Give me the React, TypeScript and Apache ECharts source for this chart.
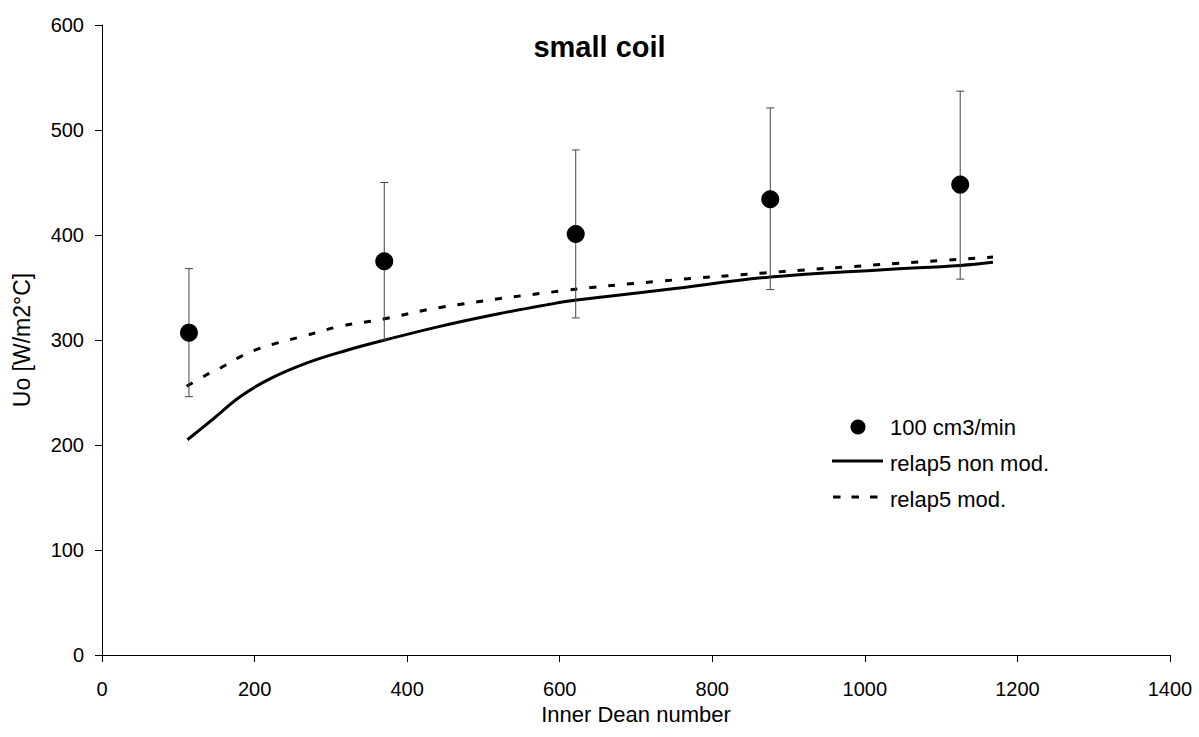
import React, { useEffect, useRef } from "react";
import * as echarts from "echarts";

const chartTitle = "small coil";
const xAxisName = "Inner Dean number";
const yAxisName = "Uo [W/m2°C]";

const deanX = [114, 370, 621, 876, 1125];
const uoMeasured = [307, 375, 401, 434, 448];
const errLow = [246, 300, 321, 348, 358];
const errHigh = [368, 450, 481, 521, 537];

const nonModX = [112, 146, 181, 220, 268, 320, 371, 443, 520, 587, 622, 740, 876, 1024, 1125, 1168];
const nonModY = [205, 225, 246, 263, 278, 290, 300, 313, 325, 334, 338, 348, 360, 367, 371, 374];

const modX = [111, 135, 157, 181, 203, 229, 266, 312, 369, 443, 605, 731, 871, 1024, 1168];
const modY = [256, 266, 274, 284, 291, 297, 304, 313, 320, 331, 347, 356, 364, 372, 379];

const legendLabels = ["100 cm3/min", "relap5 non mod.", "relap5 mod."];

const FONT = "Liberation Sans, Arial, sans-serif";

export default function App() {
  const ref = useRef<HTMLDivElement>(null);
  useEffect(() => {
    if (!ref.current) return;
    const chart = echarts.init(ref.current, undefined, { renderer: "svg" });
    const pts = deanX.map((x, i) => [x, uoMeasured[i]]);
    const errs = deanX.map((x, i) => [x, errLow[i], errHigh[i]]);
    const nonMod = nonModX.map((x, i) => [x, nonModY[i]]);
    const mod = modX.map((x, i) => [x, modY[i]]);
    chart.setOption({
      animation: false,
      backgroundColor: "#ffffff",
      title: {
        text: chartTitle,
        left: "center",
        top: 27,
        textStyle: { fontSize: 29, fontWeight: "bold", color: "#000", fontFamily: FONT },
      },
      grid: { left: 102, right: 29, top: 25, bottom: 82, containLabel: false },
      xAxis: {
        type: "value",
        min: 0,
        max: 1400,
        interval: 200,
        name: xAxisName,
        nameLocation: "middle",
        nameGap: 42,
        nameTextStyle: { fontSize: 22, color: "#000", fontFamily: FONT },
        axisLine: { show: true, onZero: false, lineStyle: { color: "#000", width: 1 } },
        axisTick: { show: true, length: 7, lineStyle: { color: "#000" } },
        axisLabel: { margin: 24, fontSize: 20, color: "#000", fontFamily: FONT, formatter: (v: number) => String(v) },
        splitLine: { show: false },
      },
      yAxis: {
        type: "value",
        min: 0,
        max: 600,
        interval: 100,
        name: yAxisName,
        nameLocation: "middle",
        nameRotate: 90,
        nameGap: 69,
        nameTextStyle: { fontSize: 23, color: "#000", fontFamily: FONT },
        axisLine: { show: true, onZero: false, lineStyle: { color: "#000", width: 1 } },
        axisTick: { show: true, length: 7, lineStyle: { color: "#000" } },
        axisLabel: { margin: 18, fontSize: 20, color: "#000", fontFamily: FONT, formatter: (v: number) => String(v) },
        splitLine: { show: false },
      },
      series: [
        {
          name: "relap5 non mod.",
          type: "line",
          data: nonMod,
          smooth: 0.4,
          symbol: "none",
          lineStyle: { color: "#000", width: 3 },
          z: 3,
        },
        {
          name: "relap5 mod.",
          type: "line",
          data: mod,
          smooth: 0.4,
          symbol: "none",
          lineStyle: { color: "#000", width: 3, type: [7, 12] },
          z: 3,
        },
        {
          name: "err",
          type: "custom",
          data: errs,
          z: 4,
          renderItem: (params: any, api: any) => {
            const x = api.value(0);
            const lo = api.coord([x, api.value(1)]);
            const hi = api.coord([x, api.value(2)]);
            const hw = 4;
            const style = { stroke: "#444", lineWidth: 1 };
            return {
              type: "group",
              children: [
                { type: "line", shape: { x1: lo[0], y1: lo[1], x2: hi[0], y2: hi[1] }, style },
                { type: "line", shape: { x1: lo[0] - hw, y1: lo[1], x2: lo[0] + hw, y2: lo[1] }, style },
                { type: "line", shape: { x1: hi[0] - hw, y1: hi[1], x2: hi[0] + hw, y2: hi[1] }, style },
              ],
            };
          },
        },
        {
          name: "100 cm3/min",
          type: "scatter",
          data: pts,
          symbol: "circle",
          symbolSize: 18,
          itemStyle: { color: "#000", opacity: 1 },
          z: 5,
        },
      ],
      graphic: [
        { type: "circle", shape: { cx: 858, cy: 427, r: 7.5 }, style: { fill: "#000" } },
        {
          type: "text",
          x: 890,
          y: 427,
          style: { text: legendLabels[0], fontSize: 22, fontFamily: FONT, fill: "#000", verticalAlign: "middle" },
        },
        { type: "line", shape: { x1: 832, y1: 461, x2: 883, y2: 461 }, style: { stroke: "#000", lineWidth: 3 } },
        {
          type: "text",
          x: 890,
          y: 463,
          style: { text: legendLabels[1], fontSize: 22, fontFamily: FONT, fill: "#000", verticalAlign: "middle" },
        },
        {
          type: "line",
          shape: { x1: 833, y1: 497, x2: 880, y2: 497 },
          style: { stroke: "#000", lineWidth: 3, lineDash: [7.5, 11] },
        },
        {
          type: "text",
          x: 890,
          y: 499,
          style: { text: legendLabels[2], fontSize: 22, fontFamily: FONT, fill: "#000", verticalAlign: "middle" },
        },
      ],
    });
    return () => chart.dispose();
  }, []);
  return (
    <div
      ref={ref}
      style={{ position: "fixed", left: 0, top: 0, width: 1199, height: 737, background: "#fff" }}
    />
  );
}
